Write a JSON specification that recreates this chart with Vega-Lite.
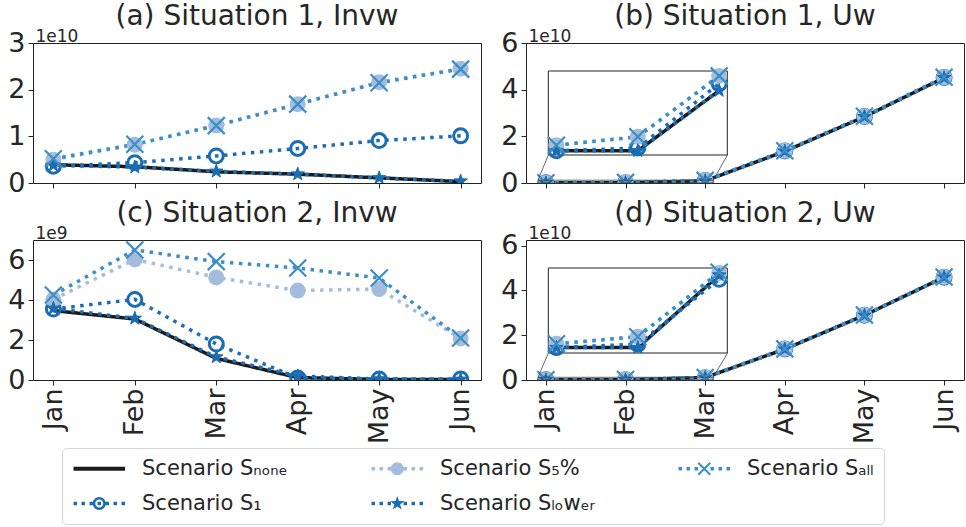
{
  "$schema": "https://vega.github.io/schema/vega-lite/v6.json",
  "background": "white",
  "padding": {"left": 7, "top": 2, "right": 0, "bottom": 0},
  "config": {
    "font": "DejaVu Sans",
    "legend": {"disable": true},
    "view": {"stroke": "#222222", "strokeWidth": 1},
    "axis": {"domain": false, "grid": false, "tickColor": "#262626", "tickSize": 5, "tickWidth": 1, "labelFont": "DejaVu Sans", "labelFontSize": 27, "labelColor": "#262626", "labelPadding": 3, "labelFlush": false, "labelOverlap": false, "titleFont": "DejaVu Sans", "titleFontSize": 17, "titleFontWeight": "normal", "titleColor": "#262626"},
    "title": {"font": "DejaVu Sans", "fontSize": 28, "fontWeight": "normal", "color": "#262626", "offset": -4}
  },
  "datasets": {
    "d": [
      {"panel":"a","scenario":"none","month":0,"value":3.9e9},{"panel":"a","scenario":"none","month":1,"value":3.5e9},{"panel":"a","scenario":"none","month":2,"value":2.4e9},{"panel":"a","scenario":"none","month":3,"value":1.9e9},{"panel":"a","scenario":"none","month":4,"value":1.1e9},{"panel":"a","scenario":"none","month":5,"value":0.3e9},
      {"panel":"a","scenario":"1","month":0,"value":3.6e9},{"panel":"a","scenario":"1","month":1,"value":4.35e9},{"panel":"a","scenario":"1","month":2,"value":5.8e9},{"panel":"a","scenario":"1","month":3,"value":7.4e9},{"panel":"a","scenario":"1","month":4,"value":9.1e9},{"panel":"a","scenario":"1","month":5,"value":10.1e9},
      {"panel":"a","scenario":"5%","month":0,"value":5.0e9},{"panel":"a","scenario":"5%","month":1,"value":8.2e9},{"panel":"a","scenario":"5%","month":2,"value":12.3e9},{"panel":"a","scenario":"5%","month":3,"value":16.9e9},{"panel":"a","scenario":"5%","month":4,"value":21.6e9},{"panel":"a","scenario":"5%","month":5,"value":24.5e9},
      {"panel":"a","scenario":"lower","month":0,"value":3.8e9},{"panel":"a","scenario":"lower","month":1,"value":3.4e9},{"panel":"a","scenario":"lower","month":2,"value":2.5e9},{"panel":"a","scenario":"lower","month":3,"value":1.9e9},{"panel":"a","scenario":"lower","month":4,"value":1.1e9},{"panel":"a","scenario":"lower","month":5,"value":0.4e9},
      {"panel":"a","scenario":"all","month":0,"value":5.2e9},{"panel":"a","scenario":"all","month":1,"value":8.3e9},{"panel":"a","scenario":"all","month":2,"value":12.3e9},{"panel":"a","scenario":"all","month":3,"value":16.9e9},{"panel":"a","scenario":"all","month":4,"value":21.5e9},{"panel":"a","scenario":"all","month":5,"value":24.4e9},

      {"panel":"b","scenario":"none","month":0,"value":0.06e9},{"panel":"b","scenario":"none","month":1,"value":0.06e9},{"panel":"b","scenario":"none","month":2,"value":0.92e9},{"panel":"b","scenario":"none","month":3,"value":13.6e9},{"panel":"b","scenario":"none","month":4,"value":28.4e9},{"panel":"b","scenario":"none","month":5,"value":45.1e9},
      {"panel":"b","scenario":"1","month":0,"value":0.06e9},{"panel":"b","scenario":"1","month":1,"value":0.1e9},{"panel":"b","scenario":"1","month":2,"value":1.02e9},{"panel":"b","scenario":"1","month":3,"value":13.7e9},{"panel":"b","scenario":"1","month":4,"value":28.5e9},{"panel":"b","scenario":"1","month":5,"value":45.2e9},
      {"panel":"b","scenario":"5%","month":0,"value":0.14e9},{"panel":"b","scenario":"5%","month":1,"value":0.26e9},{"panel":"b","scenario":"5%","month":2,"value":1.13e9},{"panel":"b","scenario":"5%","month":3,"value":13.8e9},{"panel":"b","scenario":"5%","month":4,"value":28.6e9},{"panel":"b","scenario":"5%","month":5,"value":45.3e9},
      {"panel":"b","scenario":"lower","month":0,"value":0.06e9},{"panel":"b","scenario":"lower","month":1,"value":0.06e9},{"panel":"b","scenario":"lower","month":2,"value":0.92e9},{"panel":"b","scenario":"lower","month":3,"value":13.6e9},{"panel":"b","scenario":"lower","month":4,"value":28.4e9},{"panel":"b","scenario":"lower","month":5,"value":45.1e9},
      {"panel":"b","scenario":"all","month":0,"value":0.14e9},{"panel":"b","scenario":"all","month":1,"value":0.26e9},{"panel":"b","scenario":"all","month":2,"value":1.13e9},{"panel":"b","scenario":"all","month":3,"value":13.8e9},{"panel":"b","scenario":"all","month":4,"value":28.6e9},{"panel":"b","scenario":"all","month":5,"value":45.3e9},

      {"panel":"c","scenario":"none","month":0,"value":3.47e9},{"panel":"c","scenario":"none","month":1,"value":3.05e9},{"panel":"c","scenario":"none","month":2,"value":1.08e9},{"panel":"c","scenario":"none","month":3,"value":0.12e9},{"panel":"c","scenario":"none","month":4,"value":0.03e9},{"panel":"c","scenario":"none","month":5,"value":0.02e9},
      {"panel":"c","scenario":"1","month":0,"value":3.55e9},{"panel":"c","scenario":"1","month":1,"value":4.03e9},{"panel":"c","scenario":"1","month":2,"value":1.8e9},{"panel":"c","scenario":"1","month":3,"value":0.1e9},{"panel":"c","scenario":"1","month":4,"value":0.05e9},{"panel":"c","scenario":"1","month":5,"value":0.05e9},
      {"panel":"c","scenario":"5%","month":0,"value":4.03e9},{"panel":"c","scenario":"5%","month":1,"value":6.03e9},{"panel":"c","scenario":"5%","month":2,"value":5.13e9},{"panel":"c","scenario":"5%","month":3,"value":4.47e9},{"panel":"c","scenario":"5%","month":4,"value":4.55e9},{"panel":"c","scenario":"5%","month":5,"value":2.08e9},
      {"panel":"c","scenario":"lower","month":0,"value":3.58e9},{"panel":"c","scenario":"lower","month":1,"value":3.08e9},{"panel":"c","scenario":"lower","month":2,"value":1.15e9},{"panel":"c","scenario":"lower","month":3,"value":0.2e9},{"panel":"c","scenario":"lower","month":4,"value":0.05e9},{"panel":"c","scenario":"lower","month":5,"value":0.03e9},
      {"panel":"c","scenario":"all","month":0,"value":4.25e9},{"panel":"c","scenario":"all","month":1,"value":6.5e9},{"panel":"c","scenario":"all","month":2,"value":5.92e9},{"panel":"c","scenario":"all","month":3,"value":5.6e9},{"panel":"c","scenario":"all","month":4,"value":5.1e9},{"panel":"c","scenario":"all","month":5,"value":2.1e9},

      {"panel":"d","scenario":"none","month":0,"value":0.076e9},{"panel":"d","scenario":"none","month":1,"value":0.076e9},{"panel":"d","scenario":"none","month":2,"value":1.1e9},{"panel":"d","scenario":"none","month":3,"value":13.8e9},{"panel":"d","scenario":"none","month":4,"value":28.9e9},{"panel":"d","scenario":"none","month":5,"value":45.9e9},
      {"panel":"d","scenario":"1","month":0,"value":0.076e9},{"panel":"d","scenario":"1","month":1,"value":0.124e9},{"panel":"d","scenario":"1","month":2,"value":1.04e9},{"panel":"d","scenario":"1","month":3,"value":13.8e9},{"panel":"d","scenario":"1","month":4,"value":28.9e9},{"panel":"d","scenario":"1","month":5,"value":45.9e9},
      {"panel":"d","scenario":"5%","month":0,"value":0.13e9},{"panel":"d","scenario":"5%","month":1,"value":0.23e9},{"panel":"d","scenario":"5%","month":2,"value":1.13e9},{"panel":"d","scenario":"5%","month":3,"value":13.9e9},{"panel":"d","scenario":"5%","month":4,"value":29.0e9},{"panel":"d","scenario":"5%","month":5,"value":46.0e9},
      {"panel":"d","scenario":"lower","month":0,"value":0.076e9},{"panel":"d","scenario":"lower","month":1,"value":0.076e9},{"panel":"d","scenario":"lower","month":2,"value":1.1e9},{"panel":"d","scenario":"lower","month":3,"value":13.8e9},{"panel":"d","scenario":"lower","month":4,"value":28.9e9},{"panel":"d","scenario":"lower","month":5,"value":45.9e9},
      {"panel":"d","scenario":"all","month":0,"value":0.13e9},{"panel":"d","scenario":"all","month":1,"value":0.23e9},{"panel":"d","scenario":"all","month":2,"value":1.14e9},{"panel":"d","scenario":"all","month":3,"value":13.9e9},{"panel":"d","scenario":"all","month":4,"value":29.0e9},{"panel":"d","scenario":"all","month":5,"value":46.0e9}
    ]
  },
  "bounds": "flush",
  "columns": 2,
  "spacing": {"row": 57, "column": 45},
  "concat": [
    {
      "title": "(a) Situation 1, Invw",
      "width": 448, "height": 140,
      "data": {"name": "d"},
      "transform": [{"filter": "datum.panel === 'a'"}],
      "encoding": {
        "x": {"field": "month", "type": "quantitative", "scale": {"domain": [-0.25, 5.25], "nice": false, "zero": false}, "axis": {"values": [0,1,2,3,4,5], "labels": false, "title": null}},
        "y": {"field": "value", "type": "quantitative", "scale": {"domain": [0, 3e10], "nice": false}, "axis": {"values": [0, 1e10, 2e10, 3e10], "labelExpr": "format(datum.value / 1e10, 'd')", "title": "1e10", "titleAngle": 0, "titleAlign": "left", "titleBaseline": "alphabetic", "titleX": 2, "titleY": -2}}
      },
      "layer": [
        {
          "mark": {"type": "line", "strokeWidth": 3.5, "clip": true},
          "encoding": {
            "stroke": {"field": "scenario", "type": "nominal", "scale": {"domain": ["none", "5%", "all", "1", "lower"], "range": ["#1c1c1c", "#a5bddc", "#3b8ec8", "#1b6db3", "#1b6db3"]}},
            "strokeDash": {"field": "scenario", "type": "nominal", "scale": {"domain": ["none", "5%", "all", "1", "lower"], "range": [[1, 0], [3.5, 5.5], [3.5, 5.5], [3.5, 5.5], [3.5, 5.5]]}}
          }
        },
        {"transform": [{"filter": "datum.scenario === '1'"}], "mark": {"type": "point", "shape": "circle", "filled": false, "fill": "transparent", "stroke": "#1b6db3", "strokeWidth": 3, "size": 196, "opacity": 1, "clip": true}},
        {"transform": [{"filter": "datum.scenario === '5%'"}], "mark": {"type": "point", "shape": "circle", "filled": true, "fill": "#a5bddc", "strokeWidth": 0, "size": 256, "opacity": 1, "clip": true}},
        {"transform": [{"filter": "datum.scenario === 'lower'"}], "mark": {"type": "point", "shape": "M0,-1L0.235,-0.324L0.951,-0.309L0.38,0.124L0.588,0.809L0,0.4L-0.588,0.809L-0.38,0.124L-0.951,-0.309L-0.235,-0.324Z", "filled": true, "fill": "#1b6db3", "stroke": "#1b6db3", "strokeWidth": 1, "size": 200, "opacity": 1, "clip": true}},
        {"transform": [{"filter": "datum.scenario === 'all'"}], "mark": {"type": "point", "shape": "M-1,-1L1,1M-1,1L1,-1", "filled": false, "fill": "transparent", "stroke": "#3b8ec8", "strokeWidth": 2.2, "size": 289, "opacity": 1, "clip": true}},
        {
          "transform": [{"filter": "datum.month < 0"}],
          "mark": {"type": "point", "filled": true, "opacity": 1},
          "encoding": {
            "color": {
              "field": "scenario", "type": "nominal",
              "scale": {"domain": ["none", "5%", "all", "1", "lower"], "range": ["#1c1c1c", "#a5bddc", "#3b8ec8", "#1b6db3", "#1b6db3"]},
              "legend": {"disable": false, "title": null, "orient": "none", "legendX": 29, "legendY": 405, "direction": "horizontal", "columns": 3, "labelFont": "DejaVu Sans", "labelFontSize": 21, "labelColor": "#262626", "labelOffset": 49, "symbolSize": 4, "symbolStrokeWidth": 0, "columnPadding": 82, "rowPadding": 13, "padding": 10, "strokeColor": "#d6d6d6", "fillColor": "white", "cornerRadius": 4, "labelExpr": "datum.value === 'none' ? 'Scenario Sₙₒₙₑ' : datum.value === '1' ? 'Scenario S₁' : datum.value === '5%' ? 'Scenario S₅%' : datum.value === 'lower' ? 'Scenario Sₗₒwₑᵣ' : 'Scenario Sₐₗₗ'"}
            },
            "shape": {
              "field": "scenario", "type": "nominal",
              "scale": {"domain": ["none", "5%", "all", "1", "lower"], "range": [
                "M-9,-2h51.5v4h-51.5z",
                "M-9,-1.75h3.5v3.5h-3.5zM-1,-1.75h3.5v3.5h-3.5zM7,-1.75h3.5v3.5h-3.5zM15,-1.75h3.5v3.5h-3.5zM23,-1.75h3.5v3.5h-3.5zM31,-1.75h3.5v3.5h-3.5zM39,-1.75h3.5v3.5h-3.5zM23.25,0A6.5,6.5 0 1,1 10.25,0A6.5,6.5 0 1,1 23.25,0Z",
                "M-9,-1.75h3.5v3.5h-3.5zM-1,-1.75h3.5v3.5h-3.5zM7,-1.75h3.5v3.5h-3.5zM23,-1.75h3.5v3.5h-3.5zM31,-1.75h3.5v3.5h-3.5zM39,-1.75h3.5v3.5h-3.5zM11.46,-6.71L23.46,5.29L22.04,6.71L10.04,-5.29ZM11.46,6.71L10.04,5.29L22.04,-6.71L23.46,-5.29Z",
                "M-9,-1.75h3.5v3.5h-3.5zM-1,-1.75h3.5v3.5h-3.5zM7,-1.75h3.5v3.5h-3.5zM15,-1.75h3.5v3.5h-3.5zM23,-1.75h3.5v3.5h-3.5zM31,-1.75h3.5v3.5h-3.5zM39,-1.75h3.5v3.5h-3.5zM23.25,0A6.5,6.5 0 1,1 10.25,0A6.5,6.5 0 1,1 23.25,0ZM20.75,0A4,4 0 1,0 12.75,0A4,4 0 1,0 20.75,0Z",
                "M-9,-1.75h3.5v3.5h-3.5zM-1,-1.75h3.5v3.5h-3.5zM7,-1.75h3.5v3.5h-3.5zM15,-1.75h3.5v3.5h-3.5zM23,-1.75h3.5v3.5h-3.5zM31,-1.75h3.5v3.5h-3.5zM39,-1.75h3.5v3.5h-3.5zM16.75,-7.5L18.51,-2.43L23.88,-2.32L19.6,0.93L21.16,6.07L16.75,3L12.34,6.07L13.9,0.93L9.62,-2.32L14.99,-2.43Z"
              ]},
              "legend": {"disable": false, "title": null, "orient": "none", "legendX": 29, "legendY": 405, "direction": "horizontal", "columns": 3, "labelFont": "DejaVu Sans", "labelFontSize": 21, "labelColor": "#262626", "labelOffset": 49, "symbolSize": 4, "symbolStrokeWidth": 0, "columnPadding": 82, "rowPadding": 13, "padding": 10, "strokeColor": "#d6d6d6", "fillColor": "white", "cornerRadius": 4, "labelExpr": "datum.value === 'none' ? 'Scenario Sₙₒₙₑ' : datum.value === '1' ? 'Scenario S₁' : datum.value === '5%' ? 'Scenario S₅%' : datum.value === 'lower' ? 'Scenario Sₗₒwₑᵣ' : 'Scenario Sₐₗₗ'"}
            }
          }
        }
      ]
    },
    {
      "title": "(b) Situation 1, Uw",
      "width": 438, "height": 140,
      "data": {"name": "d"},
      "transform": [{"filter": "datum.panel === 'b'"}],
      "layer": [
        {
          "encoding": {
            "x": {"field": "month", "type": "quantitative", "scale": {"domain": [-0.25, 5.25], "nice": false, "zero": false}, "axis": {"values": [0,1,2,3,4,5], "labels": false, "title": null}},
            "y": {"field": "value", "type": "quantitative", "scale": {"domain": [0, 6e10], "nice": false}, "axis": {"values": [0, 2e10, 4e10, 6e10], "labelExpr": "format(datum.value / 1e10, 'd')", "title": "1e10", "titleAngle": 0, "titleAlign": "left", "titleBaseline": "alphabetic", "titleX": 2, "titleY": -2}}
          },
          "layer": [
            {"mark": {"type": "line", "strokeWidth": 3.5, "clip": true}, "encoding": {"stroke": {"field": "scenario", "type": "nominal"}, "strokeDash": {"field": "scenario", "type": "nominal"}}},
            {"transform": [{"filter": "datum.scenario === '1'"}], "mark": {"type": "point", "shape": "circle", "filled": false, "fill": "transparent", "stroke": "#1b6db3", "strokeWidth": 3, "size": 196, "opacity": 1, "clip": true}},
            {"transform": [{"filter": "datum.scenario === '5%'"}], "mark": {"type": "point", "shape": "circle", "filled": true, "fill": "#a5bddc", "strokeWidth": 0, "size": 256, "opacity": 1, "clip": true}},
            {"transform": [{"filter": "datum.scenario === 'lower'"}], "mark": {"type": "point", "shape": "M0,-1L0.235,-0.324L0.951,-0.309L0.38,0.124L0.588,0.809L0,0.4L-0.588,0.809L-0.38,0.124L-0.951,-0.309L-0.235,-0.324Z", "filled": true, "fill": "#1b6db3", "stroke": "#1b6db3", "strokeWidth": 1, "size": 200, "opacity": 1, "clip": true}},
            {"transform": [{"filter": "datum.scenario === 'all'"}], "mark": {"type": "point", "shape": "M-1,-1L1,1M-1,1L1,-1", "filled": false, "fill": "transparent", "stroke": "#3b8ec8", "strokeWidth": 2.2, "size": 289, "opacity": 1, "clip": true}},
            {"transform": [{"aggregate": [{"op": "min", "field": "month", "as": "month"}, {"op": "min", "field": "value", "as": "value"}]}], "mark": {"type": "rect", "fill": "transparent", "stroke": "#444444", "strokeWidth": 0.8}, "encoding": {"x": {"datum": -0.1, "type": "quantitative"}, "x2": {"datum": 2.1}, "y": {"datum": 0, "type": "quantitative"}, "y2": {"datum": 1.2e9}}},
            {"transform": [{"aggregate": [{"op": "min", "field": "month", "as": "month"}, {"op": "min", "field": "value", "as": "value"}]}], "mark": {"type": "rule", "stroke": "#444444", "strokeWidth": 0.8}, "encoding": {"x": {"datum": 0.03, "type": "quantitative"}, "y": {"datum": 1.2e10, "type": "quantitative"}, "x2": {"datum": -0.1}, "y2": {"datum": 1.2e9}}},
            {"transform": [{"aggregate": [{"op": "min", "field": "month", "as": "month"}, {"op": "min", "field": "value", "as": "value"}]}], "mark": {"type": "rule", "stroke": "#444444", "strokeWidth": 0.8}, "encoding": {"x": {"datum": 2.28, "type": "quantitative"}, "y": {"datum": 1.2e10, "type": "quantitative"}, "x2": {"datum": 2.1}, "y2": {"datum": 1.2e9}}}
          ]
        },
        {
          "transform": [{"filter": "datum.month <= 2"}],
          "encoding": {
            "x": {"field": "month", "type": "quantitative", "scale": {"domain": [-0.1, 2.1], "range": [22.3, 201.3], "nice": false, "zero": false}, "axis": null},
            "y": {"field": "value", "type": "quantitative", "scale": {"domain": [0, 1.2e9], "range": [112, 28], "nice": false, "zero": false}, "axis": null}
          },
          "layer": [
            {"transform": [{"aggregate": [{"op": "min", "field": "month", "as": "month"}, {"op": "min", "field": "value", "as": "value"}]}], "mark": {"type": "rect", "fill": "white", "stroke": "#222222", "strokeWidth": 1}, "encoding": {"x": {"datum": -0.1, "type": "quantitative"}, "x2": {"datum": 2.1}, "y": {"datum": 0, "type": "quantitative"}, "y2": {"datum": 1.2e9}}},
            {"mark": {"type": "line", "strokeWidth": 3.5}, "encoding": {"stroke": {"field": "scenario", "type": "nominal"}, "strokeDash": {"field": "scenario", "type": "nominal"}}},
            {"transform": [{"filter": "datum.scenario === '1'"}], "mark": {"type": "point", "shape": "circle", "filled": false, "fill": "transparent", "stroke": "#1b6db3", "strokeWidth": 3, "size": 196, "opacity": 1}},
            {"transform": [{"filter": "datum.scenario === '5%'"}], "mark": {"type": "point", "shape": "circle", "filled": true, "fill": "#a5bddc", "strokeWidth": 0, "size": 256, "opacity": 1}},
            {"transform": [{"filter": "datum.scenario === 'lower'"}], "mark": {"type": "point", "shape": "M0,-1L0.235,-0.324L0.951,-0.309L0.38,0.124L0.588,0.809L0,0.4L-0.588,0.809L-0.38,0.124L-0.951,-0.309L-0.235,-0.324Z", "filled": true, "fill": "#1b6db3", "stroke": "#1b6db3", "strokeWidth": 1, "size": 200, "opacity": 1}},
            {"transform": [{"filter": "datum.scenario === 'all'"}], "mark": {"type": "point", "shape": "M-1,-1L1,1M-1,1L1,-1", "filled": false, "fill": "transparent", "stroke": "#3b8ec8", "strokeWidth": 2.2, "size": 289, "opacity": 1}}
          ]
        }
      ],
      "resolve": {"scale": {"x": "independent", "y": "independent"}, "axis": {"x": "independent", "y": "independent"}}
    },
    {
      "title": "(c) Situation 2, Invw",
      "width": 448, "height": 140,
      "data": {"name": "d"},
      "transform": [{"filter": "datum.panel === 'c'"}],
      "encoding": {
        "x": {"field": "month", "type": "quantitative", "scale": {"domain": [-0.25, 5.25], "nice": false, "zero": false}, "axis": {"values": [0,1,2,3,4,5], "labelExpr": "['Jan','Feb','Mar','Apr','May','Jun'][datum.value]", "labelAngle": -90, "title": null}},
        "y": {"field": "value", "type": "quantitative", "scale": {"domain": [0, 7e9], "nice": false}, "axis": {"values": [0, 2e9, 4e9, 6e9], "labelExpr": "format(datum.value / 1e9, 'd')", "title": "1e9", "titleAngle": 0, "titleAlign": "left", "titleBaseline": "alphabetic", "titleX": 2, "titleY": -2}}
      },
      "layer": [
        {"mark": {"type": "line", "strokeWidth": 3.5, "clip": true}, "encoding": {"stroke": {"field": "scenario", "type": "nominal"}, "strokeDash": {"field": "scenario", "type": "nominal"}}},
        {"transform": [{"filter": "datum.scenario === '1'"}], "mark": {"type": "point", "shape": "circle", "filled": false, "fill": "transparent", "stroke": "#1b6db3", "strokeWidth": 3, "size": 196, "opacity": 1, "clip": true}},
        {"transform": [{"filter": "datum.scenario === '5%'"}], "mark": {"type": "point", "shape": "circle", "filled": true, "fill": "#a5bddc", "strokeWidth": 0, "size": 256, "opacity": 1, "clip": true}},
        {"transform": [{"filter": "datum.scenario === 'lower'"}], "mark": {"type": "point", "shape": "M0,-1L0.235,-0.324L0.951,-0.309L0.38,0.124L0.588,0.809L0,0.4L-0.588,0.809L-0.38,0.124L-0.951,-0.309L-0.235,-0.324Z", "filled": true, "fill": "#1b6db3", "stroke": "#1b6db3", "strokeWidth": 1, "size": 200, "opacity": 1, "clip": true}},
        {"transform": [{"filter": "datum.scenario === 'all'"}], "mark": {"type": "point", "shape": "M-1,-1L1,1M-1,1L1,-1", "filled": false, "fill": "transparent", "stroke": "#3b8ec8", "strokeWidth": 2.2, "size": 289, "opacity": 1, "clip": true}}
      ]
    },
    {
      "title": "(d) Situation 2, Uw",
      "width": 438, "height": 140,
      "data": {"name": "d"},
      "transform": [{"filter": "datum.panel === 'd'"}],
      "layer": [
        {
          "encoding": {
            "x": {"field": "month", "type": "quantitative", "scale": {"domain": [-0.25, 5.25], "nice": false, "zero": false}, "axis": {"values": [0,1,2,3,4,5], "labelExpr": "['Jan','Feb','Mar','Apr','May','Jun'][datum.value]", "labelAngle": -90, "title": null}},
            "y": {"field": "value", "type": "quantitative", "scale": {"domain": [0, 6.25e10], "nice": false}, "axis": {"values": [0, 2e10, 4e10, 6e10], "labelExpr": "format(datum.value / 1e10, 'd')", "title": "1e10", "titleAngle": 0, "titleAlign": "left", "titleBaseline": "alphabetic", "titleX": 2, "titleY": -2}}
          },
          "layer": [
            {"mark": {"type": "line", "strokeWidth": 3.5, "clip": true}, "encoding": {"stroke": {"field": "scenario", "type": "nominal"}, "strokeDash": {"field": "scenario", "type": "nominal"}}},
            {"transform": [{"filter": "datum.scenario === '1'"}], "mark": {"type": "point", "shape": "circle", "filled": false, "fill": "transparent", "stroke": "#1b6db3", "strokeWidth": 3, "size": 196, "opacity": 1, "clip": true}},
            {"transform": [{"filter": "datum.scenario === '5%'"}], "mark": {"type": "point", "shape": "circle", "filled": true, "fill": "#a5bddc", "strokeWidth": 0, "size": 256, "opacity": 1, "clip": true}},
            {"transform": [{"filter": "datum.scenario === 'lower'"}], "mark": {"type": "point", "shape": "M0,-1L0.235,-0.324L0.951,-0.309L0.38,0.124L0.588,0.809L0,0.4L-0.588,0.809L-0.38,0.124L-0.951,-0.309L-0.235,-0.324Z", "filled": true, "fill": "#1b6db3", "stroke": "#1b6db3", "strokeWidth": 1, "size": 200, "opacity": 1, "clip": true}},
            {"transform": [{"filter": "datum.scenario === 'all'"}], "mark": {"type": "point", "shape": "M-1,-1L1,1M-1,1L1,-1", "filled": false, "fill": "transparent", "stroke": "#3b8ec8", "strokeWidth": 2.2, "size": 289, "opacity": 1, "clip": true}},
            {"transform": [{"aggregate": [{"op": "min", "field": "month", "as": "month"}, {"op": "min", "field": "value", "as": "value"}]}], "mark": {"type": "rect", "fill": "transparent", "stroke": "#444444", "strokeWidth": 0.8}, "encoding": {"x": {"datum": -0.1, "type": "quantitative"}, "x2": {"datum": 2.1}, "y": {"datum": 0, "type": "quantitative"}, "y2": {"datum": 1.2e9}}},
            {"transform": [{"aggregate": [{"op": "min", "field": "month", "as": "month"}, {"op": "min", "field": "value", "as": "value"}]}], "mark": {"type": "rule", "stroke": "#444444", "strokeWidth": 0.8}, "encoding": {"x": {"datum": 0.03, "type": "quantitative"}, "y": {"datum": 1.2e10, "type": "quantitative"}, "x2": {"datum": -0.1}, "y2": {"datum": 1.2e9}}},
            {"transform": [{"aggregate": [{"op": "min", "field": "month", "as": "month"}, {"op": "min", "field": "value", "as": "value"}]}], "mark": {"type": "rule", "stroke": "#444444", "strokeWidth": 0.8}, "encoding": {"x": {"datum": 2.28, "type": "quantitative"}, "y": {"datum": 1.2e10, "type": "quantitative"}, "x2": {"datum": 2.1}, "y2": {"datum": 1.2e9}}}
          ]
        },
        {
          "transform": [{"filter": "datum.month <= 2"}],
          "encoding": {
            "x": {"field": "month", "type": "quantitative", "scale": {"domain": [-0.1, 2.1], "range": [22.3, 201.3], "nice": false, "zero": false}, "axis": null},
            "y": {"field": "value", "type": "quantitative", "scale": {"domain": [0, 1.2e9], "range": [113, 28], "nice": false, "zero": false}, "axis": null}
          },
          "layer": [
            {"transform": [{"aggregate": [{"op": "min", "field": "month", "as": "month"}, {"op": "min", "field": "value", "as": "value"}]}], "mark": {"type": "rect", "fill": "white", "stroke": "#222222", "strokeWidth": 1}, "encoding": {"x": {"datum": -0.1, "type": "quantitative"}, "x2": {"datum": 2.1}, "y": {"datum": 0, "type": "quantitative"}, "y2": {"datum": 1.2e9}}},
            {"mark": {"type": "line", "strokeWidth": 3.5}, "encoding": {"stroke": {"field": "scenario", "type": "nominal"}, "strokeDash": {"field": "scenario", "type": "nominal"}}},
            {"transform": [{"filter": "datum.scenario === '1'"}], "mark": {"type": "point", "shape": "circle", "filled": false, "fill": "transparent", "stroke": "#1b6db3", "strokeWidth": 3, "size": 196, "opacity": 1}},
            {"transform": [{"filter": "datum.scenario === '5%'"}], "mark": {"type": "point", "shape": "circle", "filled": true, "fill": "#a5bddc", "strokeWidth": 0, "size": 256, "opacity": 1}},
            {"transform": [{"filter": "datum.scenario === 'lower'"}], "mark": {"type": "point", "shape": "M0,-1L0.235,-0.324L0.951,-0.309L0.38,0.124L0.588,0.809L0,0.4L-0.588,0.809L-0.38,0.124L-0.951,-0.309L-0.235,-0.324Z", "filled": true, "fill": "#1b6db3", "stroke": "#1b6db3", "strokeWidth": 1, "size": 200, "opacity": 1}},
            {"transform": [{"filter": "datum.scenario === 'all'"}], "mark": {"type": "point", "shape": "M-1,-1L1,1M-1,1L1,-1", "filled": false, "fill": "transparent", "stroke": "#3b8ec8", "strokeWidth": 2.2, "size": 289, "opacity": 1}}
          ]
        }
      ],
      "resolve": {"scale": {"x": "independent", "y": "independent"}, "axis": {"x": "independent", "y": "independent"}}
    }
  ]
}
